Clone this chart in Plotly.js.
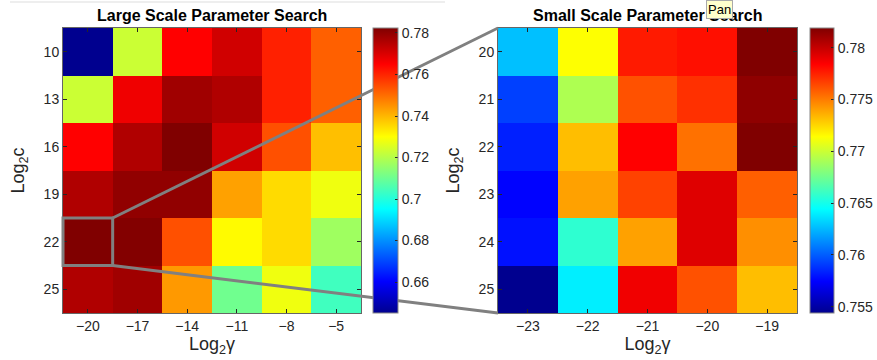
<!DOCTYPE html>
<html>
<head>
<meta charset="utf-8">
<script src="https://cdn.plot.ly/plotly-3.0.1.min.js"></script>
<style>html,body{margin:0;padding:0;background:#fff;}#chart{width:877px;height:360px;}</style>
</head>
<body>
<div id="chart"></div>
<script>
// ---- data ----
const gammaLarge = [-20, -17, -14, -11, -8, -5];
const cLarge = [10, 13, 16, 19, 22, 25];
const accLarge = [
  [0.6451, 0.7230, 0.7650, 0.7714, 0.7606, 0.7518],
  [0.7230, 0.7670, 0.7780, 0.7758, 0.7606, 0.7518],
  [0.7650, 0.7758, 0.7824, 0.7714, 0.7540, 0.7388],
  [0.7758, 0.7800, 0.7800, 0.7430, 0.7350, 0.7280],
  [0.7824, 0.7820, 0.7540, 0.7307, 0.7350, 0.7170],
  [0.7758, 0.7780, 0.7440, 0.7106, 0.7280, 0.7040]
];
const gammaSmall = [-23, -22, -21, -20, -19];
const cSmall = [20, 21, 22, 23, 24, 25];
const accSmall = [
  [0.7627, 0.7714, 0.7777, 0.7780, 0.7819],
  [0.7592, 0.7692, 0.7762, 0.7771, 0.7815],
  [0.7583, 0.7732, 0.7784, 0.7753, 0.7819],
  [0.7575, 0.7740, 0.7766, 0.7793, 0.7758],
  [0.7579, 0.7657, 0.7740, 0.7793, 0.7745],
  [0.7544, 0.7640, 0.7788, 0.7762, 0.7732]
];
const cbTicksLarge = [0.66, 0.68, 0.7, 0.72, 0.74, 0.76, 0.78];
const cbTicksSmall = [0.755, 0.76, 0.765, 0.77, 0.775, 0.78];
const zoomGamma = -20;
const zoomC = 22;
const titleLarge = '<b>Large Scale Parameter Search</b>';
const titleSmall = '<b>Small Scale Parameter Search</b>';

// ---- styling ----
const W = 877, H = 360;
const FONT = 'Liberation Sans, Arial, Helvetica, sans-serif';
const TXT = '#262626';
const jet = [
  [0, 'rgb(0,0,143)'], [0.111, 'rgb(0,0,255)'], [0.365, 'rgb(0,255,255)'],
  [0.619, 'rgb(255,255,0)'], [0.873, 'rgb(255,0,0)'], [1, 'rgb(128,0,0)']
];
const domL = [63 / W, 361 / W];
const domR = [498 / W, 797 / W];
const domY = [1 - 313 / H, 1 - 28 / H];

function half(arr) { return (arr[1] - arr[0]) / 2; }
const rxL = [gammaLarge[0] - half(gammaLarge), gammaLarge[gammaLarge.length - 1] + half(gammaLarge)];
const ryL = [cLarge[cLarge.length - 1] + half(cLarge), cLarge[0] - half(cLarge)];
const rxR = [gammaSmall[0] - half(gammaSmall), gammaSmall[gammaSmall.length - 1] + half(gammaSmall)];
const ryR = [cSmall[cSmall.length - 1] + half(cSmall), cSmall[0] - half(cSmall)];

function px(v) { return domL[0] + (v - rxL[0]) / (rxL[1] - rxL[0]) * (domL[1] - domL[0]); }
function py(v) { return domY[0] + (v - ryL[0]) / (ryL[1] - ryL[0]) * (domY[1] - domY[0]); }

const boxX0 = px(zoomGamma - half(gammaLarge)), boxX1 = px(zoomGamma + half(gammaLarge));
const boxYt = py(zoomC - half(cLarge)), boxYb = py(zoomC + half(cLarge));

const cbCommon = {
  thickness: 25, thicknessmode: 'pixels', len: domY[1] - domY[0], lenmode: 'fraction',
  y: domY[0], yanchor: 'bottom', xanchor: 'left', xpad: 0, ypad: 0,
  outlinewidth: 1, outlinecolor: '#888', ticks: 'inside', ticklen: 3, tickcolor: TXT,
  tickfont: {family: FONT, size: 14, color: TXT}
};

const traces = [
  {type: 'heatmap', x: gammaLarge, y: cLarge, z: accLarge, colorscale: jet, xaxis: 'x', yaxis: 'y',
   colorbar: Object.assign({}, cbCommon, {x: 373 / W, tickvals: cbTicksLarge})},
  {type: 'heatmap', x: gammaSmall, y: cSmall, z: accSmall, colorscale: jet, xaxis: 'x2', yaxis: 'y2',
   colorbar: Object.assign({}, cbCommon, {x: 810 / W, thickness: 24, tickvals: cbTicksSmall})}
];

function axis(dom, rng, vals, title, anchor, standoff) {
  return {domain: dom, range: rng, tickvals: vals, ticks: 'inside', ticklen: 4, tickcolor: TXT,
    showline: true, linecolor: '#666', linewidth: 1, mirror: 'ticks', showgrid: false, zeroline: false,
    tickfont: {family: FONT, size: 14, color: TXT}, anchor: anchor, automargin: false,
    title: {text: title, font: {family: FONT, size: 18, color: TXT}, standoff: standoff}};
}

const layout = {
  width: W, height: H, margin: {l: 0, r: 0, t: 0, b: 0},
  paper_bgcolor: '#fff', plot_bgcolor: '#fff', showlegend: false,
  xaxis: axis(domL, rxL, gammaLarge, 'Log<sub>2</sub>\u03b3', 'y', 2),
  yaxis: axis(domY, ryL, cLarge, 'Log<sub>2</sub>c', 'x', 14),
  xaxis2: axis(domR, rxR, gammaSmall, 'Log<sub>2</sub>\u03b3', 'y2', 2),
  yaxis2: axis(domY, ryR, cSmall, 'Log<sub>2</sub>c', 'x2', 14),
  annotations: [
    {text: titleLarge, xref: 'paper', yref: 'paper', x: (domL[0] + domL[1]) / 2, y: 1 - 16 / H,
     showarrow: false, xanchor: 'center', yanchor: 'middle', font: {family: FONT, size: 16, color: '#000'}},
    {text: titleSmall, xref: 'paper', yref: 'paper', x: (domR[0] + domR[1]) / 2, y: 1 - 16 / H,
     showarrow: false, xanchor: 'center', yanchor: 'middle', font: {family: FONT, size: 16, color: '#000'}},
    {text: 'Pan', xref: 'paper', yref: 'paper', x: 719 / W, y: 1 - 9 / H, showarrow: false,
     xanchor: 'center', yanchor: 'middle', bgcolor: '#ffffcc', bordercolor: '#aaa', borderwidth: 1, borderpad: 1,
     font: {family: FONT, size: 13, color: '#000'}}
  ],
  shapes: [
    {type: 'line', xref: 'paper', yref: 'paper', x0: 10 / W, x1: 445 / W, y0: 1 - 2 / H, y1: 1 - 2 / H,
     line: {color: '#ddd', width: 1}},
    {type: 'rect', xref: 'paper', yref: 'paper', x0: boxX0, x1: boxX1, y0: boxYb, y1: boxYt,
     line: {color: '#808080', width: 3}},
    {type: 'line', xref: 'paper', yref: 'paper', x0: boxX1, y0: boxYt, x1: domR[0], y1: domY[1],
     line: {color: '#808080', width: 3}},
    {type: 'line', xref: 'paper', yref: 'paper', x0: boxX1, y0: boxYb, x1: domR[0], y1: domY[0],
     line: {color: '#808080', width: 3}}
  ]
};

Plotly.newPlot('chart', traces, layout, {displayModeBar: false, staticPlot: true});
</script>
</body>
</html>
